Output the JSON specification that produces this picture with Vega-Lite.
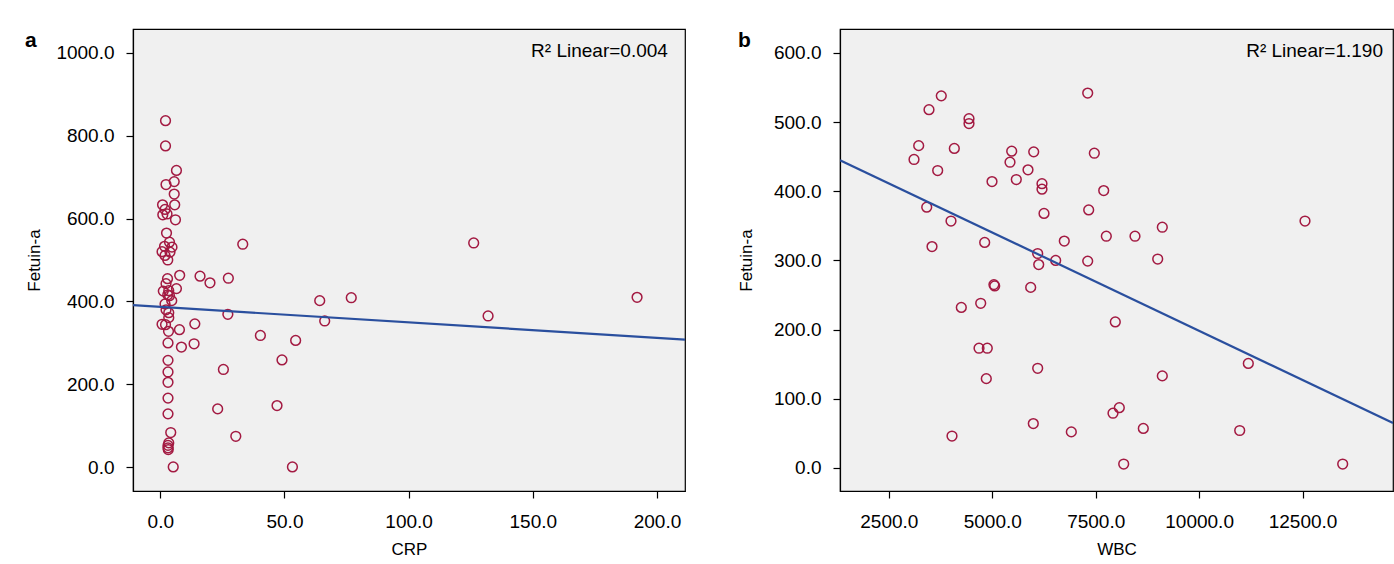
{
  "$schema": "https://vega.github.io/schema/vega-lite/v6.json",
  "background": "white",
  "padding": {"left": 24, "top": 28, "right": 2, "bottom": 2},
  "spacing": 155,
  "bounds": "flush",
  "config": {
    "font": "Liberation Sans",
    "view": {"fill": "#f0f0f0", "stroke": "#000000", "strokeWidth": 1.2},
    "axis": {
      "grid": false,
      "domainColor": "#000000",
      "domainWidth": 1.2,
      "tickColor": "#000000",
      "tickSize": 7,
      "tickWidth": 1.2,
      "labelFont": "Liberation Sans",
      "labelFontSize": 19,
      "labelColor": "#000000",
      "labelPadding": 12,
      "titleFont": "Liberation Sans",
      "titleFontSize": 17,
      "titleFontWeight": "normal",
      "titleColor": "#000000"
    },
    "axisX": {"labelPadding": 14, "titlePadding": 10}
  },
  "hconcat": [
    {
      "width": 552,
      "height": 462,
      "layer": [
        {
          "data": {"values": [
            {"CRP": 2.1, "Fetuin": 836}, {"CRP": 2.1, "Fetuin": 775}, {"CRP": 6.5, "Fetuin": 716}, {"CRP": 2.3, "Fetuin": 682},
            {"CRP": 5.6, "Fetuin": 689}, {"CRP": 5.6, "Fetuin": 659}, {"CRP": 5.8, "Fetuin": 633}, {"CRP": 0.9, "Fetuin": 633},
            {"CRP": 1.9, "Fetuin": 622}, {"CRP": 1.0, "Fetuin": 609}, {"CRP": 2.7, "Fetuin": 611}, {"CRP": 6.1, "Fetuin": 597},
            {"CRP": 2.5, "Fetuin": 565}, {"CRP": 3.7, "Fetuin": 543}, {"CRP": 4.7, "Fetuin": 531}, {"CRP": 1.7, "Fetuin": 533},
            {"CRP": 0.7, "Fetuin": 520}, {"CRP": 3.9, "Fetuin": 519}, {"CRP": 1.9, "Fetuin": 511}, {"CRP": 3.0, "Fetuin": 500},
            {"CRP": 33.2, "Fetuin": 538}, {"CRP": 7.8, "Fetuin": 463}, {"CRP": 16.0, "Fetuin": 461}, {"CRP": 20.0, "Fetuin": 445},
            {"CRP": 27.4, "Fetuin": 456}, {"CRP": 2.9, "Fetuin": 455}, {"CRP": 2.3, "Fetuin": 443}, {"CRP": 6.5, "Fetuin": 431},
            {"CRP": 1.2, "Fetuin": 425}, {"CRP": 3.4, "Fetuin": 426}, {"CRP": 3.0, "Fetuin": 416},
            {"CRP": 3.7, "Fetuin": 414}, {"CRP": 4.6, "Fetuin": 402}, {"CRP": 1.9, "Fetuin": 394}, {"CRP": 2.3, "Fetuin": 380},
            {"CRP": 3.4, "Fetuin": 373}, {"CRP": 3.4, "Fetuin": 361}, {"CRP": 0.7, "Fetuin": 345}, {"CRP": 2.1, "Fetuin": 344},
            {"CRP": 3.3, "Fetuin": 328}, {"CRP": 7.7, "Fetuin": 332}, {"CRP": 13.9, "Fetuin": 346}, {"CRP": 27.2, "Fetuin": 369},
            {"CRP": 3.1, "Fetuin": 300}, {"CRP": 8.5, "Fetuin": 290}, {"CRP": 13.6, "Fetuin": 298}, {"CRP": 40.3, "Fetuin": 318},
            {"CRP": 54.5, "Fetuin": 306}, {"CRP": 3.1, "Fetuin": 258}, {"CRP": 49.0, "Fetuin": 259}, {"CRP": 3.1, "Fetuin": 230},
            {"CRP": 25.4, "Fetuin": 236}, {"CRP": 3.1, "Fetuin": 205}, {"CRP": 3.1, "Fetuin": 167}, {"CRP": 23.1, "Fetuin": 141},
            {"CRP": 47.0, "Fetuin": 149}, {"CRP": 3.1, "Fetuin": 129}, {"CRP": 4.2, "Fetuin": 84}, {"CRP": 30.4, "Fetuin": 75},
            {"CRP": 3.4, "Fetuin": 59}, {"CRP": 3.1, "Fetuin": 53}, {"CRP": 3.1, "Fetuin": 47}, {"CRP": 3.2, "Fetuin": 43},
            {"CRP": 5.2, "Fetuin": 1}, {"CRP": 53.2, "Fetuin": 1},
            {"CRP": 126.2, "Fetuin": 541}, {"CRP": 64.2, "Fetuin": 402}, {"CRP": 76.9, "Fetuin": 409}, {"CRP": 192.0, "Fetuin": 410},
            {"CRP": 66.2, "Fetuin": 353}, {"CRP": 132.0, "Fetuin": 365}
          ]},
          "mark": {"type": "point", "shape": "circle", "filled": false, "stroke": "#a31a42", "strokeWidth": 1.5, "size": 95, "opacity": 1},
          "encoding": {
            "x": {"field": "CRP", "type": "quantitative", "scale": {"domain": [-11, 211.3], "nice": false, "zero": false},
                  "axis": {"values": [0, 50, 100, 150, 200], "format": ".1f", "title": "CRP"}},
            "y": {"field": "Fetuin", "type": "quantitative", "scale": {"domain": [-57, 1057], "nice": false, "zero": false},
                  "axis": {"values": [0, 200, 400, 600, 800, 1000], "format": ".1f", "title": "Fetuin-a", "titlePadding": 12}}
          }
        },
        {
          "data": {"values": [{"CRP": -11, "Fetuin": 391}, {"CRP": 211.3, "Fetuin": 308}]},
          "mark": {"type": "line", "color": "#2a4f9e", "strokeWidth": 2.2, "clip": true},
          "encoding": {
            "x": {"field": "CRP", "type": "quantitative"},
            "y": {"field": "Fetuin", "type": "quantitative"}
          }
        },
        {
          "data": {"values": [{"label": "R² Linear=0.004"}]},
          "mark": {"type": "text", "align": "right", "baseline": "middle", "fontSize": 19, "color": "#000000"},
          "encoding": {
            "x": {"datum": 204.4, "type": "quantitative"},
            "y": {"datum": 1005, "type": "quantitative"},
            "text": {"field": "label"}
          }
        },
        {
          "data": {"values": [{"label": "a"}]},
          "mark": {"type": "text", "align": "left", "baseline": "alphabetic", "fontSize": 21, "fontWeight": "bold", "color": "#000000"},
          "encoding": {
            "x": {"datum": -54.5, "type": "quantitative"},
            "y": {"datum": 1014, "type": "quantitative"},
            "text": {"field": "label"}
          }
        }
      ]
    },
    {
      "width": 553,
      "height": 462,
      "layer": [
        {
          "data": {"values": [
            {"WBC": 3768, "Fetuin": 538}, {"WBC": 3471, "Fetuin": 518}, {"WBC": 4438, "Fetuin": 505}, {"WBC": 4438, "Fetuin": 498},
            {"WBC": 7307, "Fetuin": 542}, {"WBC": 3222, "Fetuin": 466}, {"WBC": 3109, "Fetuin": 446}, {"WBC": 4083, "Fetuin": 462},
            {"WBC": 5470, "Fetuin": 458}, {"WBC": 6002, "Fetuin": 457}, {"WBC": 7467, "Fetuin": 455}, {"WBC": 5429, "Fetuin": 442},
            {"WBC": 5864, "Fetuin": 431}, {"WBC": 3681, "Fetuin": 430}, {"WBC": 4994, "Fetuin": 414}, {"WBC": 5581, "Fetuin": 417},
            {"WBC": 6202, "Fetuin": 411}, {"WBC": 6202, "Fetuin": 403}, {"WBC": 7694, "Fetuin": 401}, {"WBC": 3416, "Fetuin": 377},
            {"WBC": 4003, "Fetuin": 357}, {"WBC": 6251, "Fetuin": 368}, {"WBC": 7331, "Fetuin": 373}, {"WBC": 7757, "Fetuin": 335},
            {"WBC": 6741, "Fetuin": 328}, {"WBC": 3544, "Fetuin": 320}, {"WBC": 4817, "Fetuin": 326}, {"WBC": 6098, "Fetuin": 310},
            {"WBC": 6123, "Fetuin": 294}, {"WBC": 6533, "Fetuin": 300}, {"WBC": 7307, "Fetuin": 299},
            {"WBC": 5059, "Fetuin": 263}, {"WBC": 5040, "Fetuin": 265}, {"WBC": 5929, "Fetuin": 261}, {"WBC": 4721, "Fetuin": 238},
            {"WBC": 4252, "Fetuin": 232}, {"WBC": 4680, "Fetuin": 173}, {"WBC": 4880, "Fetuin": 173}, {"WBC": 6098, "Fetuin": 144},
            {"WBC": 4856, "Fetuin": 129}, {"WBC": 5992, "Fetuin": 64}, {"WBC": 6911, "Fetuin": 52}, {"WBC": 4027, "Fetuin": 46},
            {"WBC": 8450, "Fetuin": 335}, {"WBC": 9110, "Fetuin": 348}, {"WBC": 8999, "Fetuin": 302}, {"WBC": 12559, "Fetuin": 357},
            {"WBC": 7974, "Fetuin": 211}, {"WBC": 11189, "Fetuin": 151}, {"WBC": 9110, "Fetuin": 133}, {"WBC": 8071, "Fetuin": 87},
            {"WBC": 7918, "Fetuin": 79}, {"WBC": 8651, "Fetuin": 57}, {"WBC": 10981, "Fetuin": 54}, {"WBC": 8177, "Fetuin": 5.5},
            {"WBC": 13470, "Fetuin": 5.5}
          ]},
          "mark": {"type": "point", "shape": "circle", "filled": false, "stroke": "#a31a42", "strokeWidth": 1.5, "size": 95, "opacity": 1},
          "encoding": {
            "x": {"field": "WBC", "type": "quantitative", "scale": {"domain": [1320, 14686], "nice": false, "zero": false},
                  "axis": {"values": [2500, 5000, 7500, 10000, 12500], "format": ".1f", "title": "WBC"}},
            "y": {"field": "Fetuin", "type": "quantitative", "scale": {"domain": [-33.5, 634.7], "nice": false, "zero": false},
                  "axis": {"values": [0, 100, 200, 300, 400, 500, 600], "format": ".1f", "title": "Fetuin-a", "titlePadding": 18}}
          }
        },
        {
          "data": {"values": [{"WBC": 1320, "Fetuin": 445}, {"WBC": 14686, "Fetuin": 65}]},
          "mark": {"type": "line", "color": "#2a4f9e", "strokeWidth": 2.2, "clip": true},
          "encoding": {
            "x": {"field": "WBC", "type": "quantitative"},
            "y": {"field": "Fetuin", "type": "quantitative"}
          }
        },
        {
          "data": {"values": [{"label": "R² Linear=1.190"}]},
          "mark": {"type": "text", "align": "right", "baseline": "middle", "fontSize": 19, "color": "#000000"},
          "encoding": {
            "x": {"datum": 14444, "type": "quantitative"},
            "y": {"datum": 603, "type": "quantitative"},
            "text": {"field": "label"}
          }
        },
        {
          "data": {"values": [{"label": "b"}]},
          "mark": {"type": "text", "align": "left", "baseline": "alphabetic", "fontSize": 21, "fontWeight": "bold", "color": "#000000"},
          "encoding": {
            "x": {"datum": -1145, "type": "quantitative"},
            "y": {"datum": 609, "type": "quantitative"},
            "text": {"field": "label"}
          }
        }
      ]
    }
  ]
}
